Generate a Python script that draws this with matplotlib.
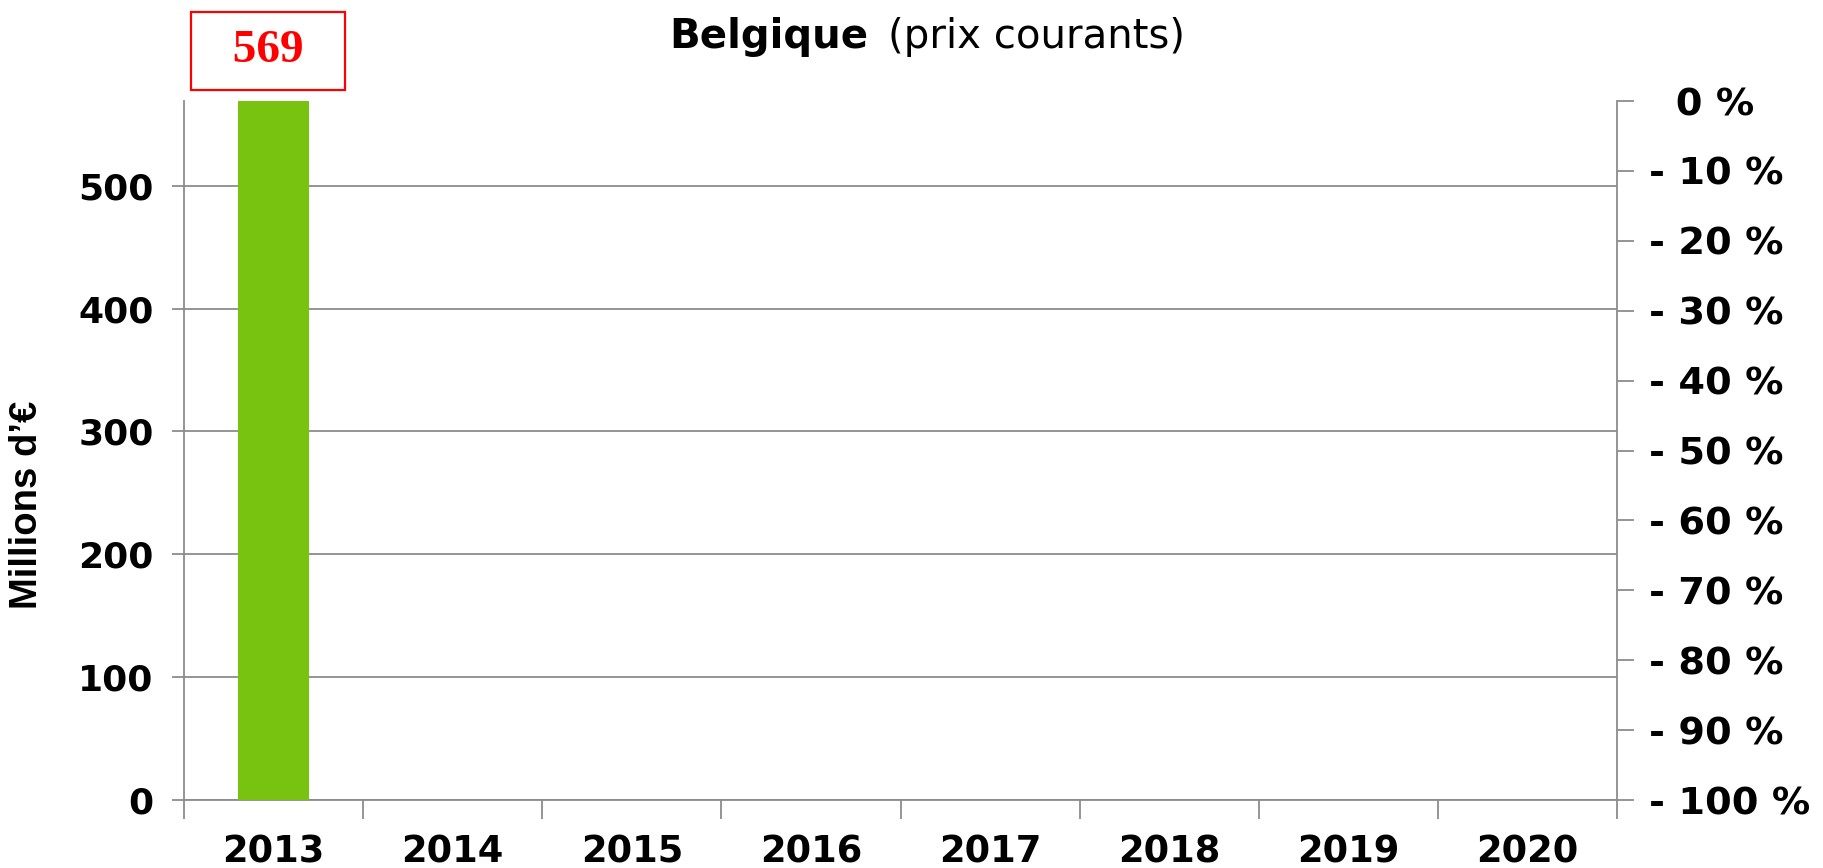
import matplotlib
matplotlib.use("Agg")
import matplotlib.pyplot as plt
import numpy as np

# data
years = ["2013", "2014", "2015", "2016", "2017", "2018", "2019", "2020"]
values = [569, 0, 0, 0, 0, 0, 0, 0]
left_ticks = [0, 100, 200, 300, 400, 500]
right_ticks = [-100, -90, -80, -70, -60, -50, -40, -30, -20, -10, 0]
right_labels = ["- 100 %", "- 90 %", "- 80 %", "- 70 %", "- 60 %", "- 50 %",
                "- 40 %", "- 30 %", "- 20 %", "- 10 %", "  0 %"]

GREEN = "#78C310"
GREY = "#8C8C8C"

plt.rcParams['font.family'] = ['DejaVu Sans']

fig = plt.figure(figsize=(18.24, 8.68), dpi=100)
ax = fig.add_axes([0.1009, 0.0783, 0.7856, 0.8053])

x = np.arange(len(years))
ax.bar(x[:1], values[:1], width=0.40, color=GREEN, zorder=3)

ax.set_xlim(-0.5, len(years) - 0.5)
ax.set_ylim(0, values[0])
ax.set_yticks(left_ticks)
ax.set_yticklabels([str(t) for t in left_ticks], fontsize=26, fontweight='bold')
ax.yaxis.grid(True, color=GREY, linewidth=1.3, zorder=0)
ax.tick_params(axis='y', length=9, color=GREY, width=1.3, pad=13)

ax.set_xticks(x)
ax.set_xticklabels(years, fontsize=26.5, fontweight='bold')
ax.tick_params(axis='x', which='major', length=0, pad=24)
ax.set_xticks(np.arange(len(years) + 1) - 0.5, minor=True)
ax.tick_params(axis='x', which='minor', length=14, color=GREY, width=1.3, direction='out')

for s in ['top', 'right']:
    ax.spines[s].set_visible(False)
for s in ['left', 'bottom']:
    ax.spines[s].set_color(GREY)
    ax.spines[s].set_linewidth(1.3)

fig.text(0.0148, 0.418, "Millions d\u2019\u20ac", fontsize=27.5, fontweight='bold',
         family='Liberation Sans', rotation=90, ha='center', va='center')

ax2 = ax.twinx()
ax2.set_ylim(-100, 0)
ax2.set_yticks(right_ticks)
ax2.set_yticklabels(right_labels, fontsize=27.5, fontweight='bold')
ax2.tick_params(axis='y', length=12, color=GREY, width=1.3, pad=11)
for s in ['top', 'left', 'bottom']:
    ax2.spines[s].set_visible(False)
ax2.spines['right'].set_color(GREY)
ax2.spines['right'].set_linewidth(1.3)

# value label in red box
ax.annotate("  %d  " % values[0], xy=(x[0], values[0]), xytext=(-4, 36),
            textcoords='offset points', ha='center', va='center',
            fontsize=34, fontweight='bold', color='red', family='Liberation Serif',
            bbox=dict(boxstyle='square,pad=0.375', fc='white', ec='red', lw=1.6),
            annotation_clip=False)

# title
fig.text(868 / 1824, 0.945, "Belgique", fontsize=29, fontweight='bold',
         ha='right', va='baseline')
fig.text(888 / 1824, 0.945, "(prix courants)", fontsize=29, ha='left', va='baseline')

fig.savefig("out.png", dpi=100)
